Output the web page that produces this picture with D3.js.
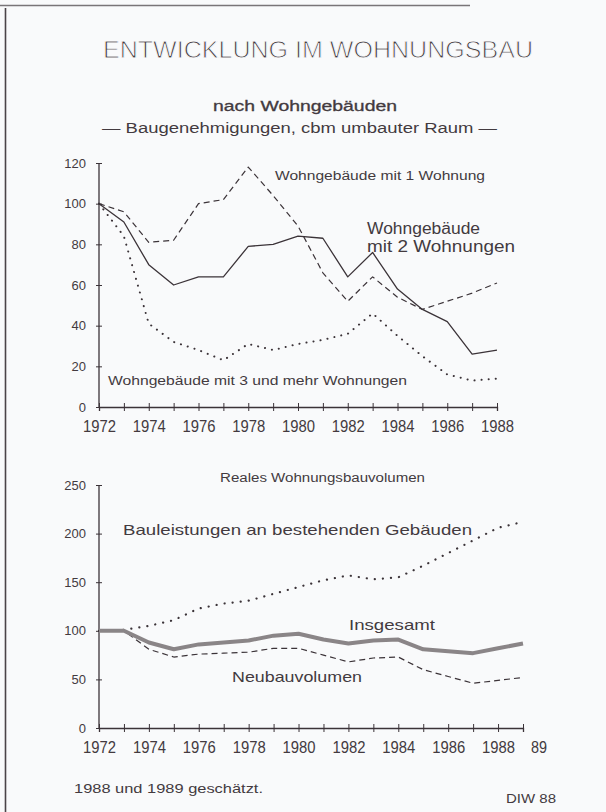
<!DOCTYPE html>
<html><head><meta charset="utf-8">
<script src="https://cdn.jsdelivr.net/npm/d3@7"></script>
<style>
html,body{margin:0;padding:0;background:#f9fafb;}
svg{display:block;}
text{fill:#433a3f;font-family:"Liberation Sans","DejaVu Sans",sans-serif;}
</style></head>
<body><svg id="c" width="606" height="812"></svg>
<script>
// ---- data: top chart (Baugenehmigungen, 1972 = 100) ----
const yearsTop = d3.range(1972, 1989);
const oneFamily   = [100, 96, 81, 82, 100, 102, 118, 104, 89, 66, 52, 64, 54, 48, 52, 56, 61];
const twoFamily   = [100, 91, 70, 60, 64, 64, 79, 80, 84, 83, 64, 76, 58, 48, 42, 26, 28];
const multiFamily = [100, 84, 41, 32, 28, 23, 31, 28, 31, 33, 36, 46, 35, 25, 16, 13, 14];
const yTicksTop = [0, 20, 40, 60, 80, 100, 120];
const xLabelsTop = [1972, 1974, 1976, 1978, 1980, 1982, 1984, 1986, 1988];

// ---- data: bottom chart (Reales Wohnungsbauvolumen, 1972 = 100) ----
const yearsBottom = d3.range(1972, 1990);
const bestand   = [100, 101, 105, 111, 123, 128, 131, 138, 145, 152, 157, 153, 155, 167, 180, 193, 206, 212];
const insgesamt = [100, 100, 88, 81, 86, 88, 90, 95, 97, 91, 87, 90, 91, 81, 79, 77, 82, 87];
const neubau    = [100, 100, 81, 73, 76, 77, 78, 82, 82, 75, 68, 72, 73, 60, 53, 46, 49, 52];
const yTicksBottom = [0, 50, 100, 150, 200, 250];
const xLabelsBottom = [1972, 1974, 1976, 1978, 1980, 1982, 1984, 1986, 1988];

const svg = d3.select("#c");
const ink = "#3b3338";
const bg = "#f9fafb";

// frame remnants of scanned page
svg.append("line").attr("x1",5.5).attr("x2",5.5).attr("y1",8).attr("y2",812).attr("stroke","#4a4448").attr("stroke-width",1.6);
svg.append("line").attr("x1",0).attr("x2",470).attr("y1",5.5).attr("y2",5.5).attr("stroke","#5a5458").attr("stroke-width",1.4).attr("opacity",0.8);

function txt(s, x, y, size, len, opts={}) {
  const t = svg.append("text").attr("x", x).attr("y", y).attr("font-size", size).text(s);
  if (len) t.attr("textLength", len).attr("lengthAdjust", "spacingAndGlyphs");
  if (opts.weight) t.attr("font-weight", opts.weight);
  if (opts.family) t.attr("font-family", opts.family);
  if (opts.stroke) t.attr("stroke", opts.strokeColor || "#433a3f").attr("stroke-width", opts.stroke);
  if (opts.opacity) t.attr("opacity", opts.opacity);
  return t;
}

// titles (background-coloured stroke thins the glyphs like the plotter font)
txt("ENTWICKLUNG IM WOHNUNGSBAU", 103, 58, 24, 430, {stroke:0.9, strokeColor:bg, opacity:0.99});
txt("nach Wohngebäuden", 213, 111, 14, 184, {stroke:0.3});
txt("— Baugenehmigungen, cbm umbauter Raum —", 102, 133, 14, 395);

function drawAxes(x, y, years, xLabels, yTicks, extraLabel) {
  const [x0, x1] = x.range();
  const y0 = y(0);
  // y axis
  svg.append("line").attr("x1", x0).attr("x2", x0).attr("y1", y0).attr("y2", y(yTicks[yTicks.length-1]))
    .attr("stroke", ink).attr("stroke-width", 1.3);
  const ya = svg.append("g").attr("transform", `translate(${x0},0)`)
    .call(d3.axisLeft(y).tickValues(yTicks).tickSize(3).tickPadding(10));
  ya.select(".domain").remove();
  ya.selectAll(".tick line").attr("x2", 3).attr("x1", -3).attr("stroke", ink);
  ya.selectAll(".tick text").attr("font-size", 13).attr("fill", ink)
    .attr("font-family", "'Liberation Sans', sans-serif");
  // x axis
  const xa = svg.append("g").attr("transform", `translate(0,${y0})`)
    .call(d3.axisBottom(x).tickValues(years).tickSize(4).tickPadding(10).tickFormat(d => xLabels.includes(d) ? d : ""));
  xa.select(".domain").attr("stroke", ink).attr("stroke-width", 1.3);
  xa.selectAll(".tick line").attr("y1", -4).attr("y2", 4).attr("stroke", ink);
  xa.selectAll(".tick text").attr("font-size", 16).attr("fill", ink)
    .attr("font-family", "'Liberation Sans', sans-serif")
    .attr("textLength", d => xLabels.includes(d) ? 33 : null)
    .attr("lengthAdjust", "spacingAndGlyphs");
  if (extraLabel) {
    xa.append("text").attr("x", x(extraLabel.year) + 16).attr("y", 25)
      .attr("text-anchor", "middle").attr("font-size", 16).attr("fill", ink)
      .attr("textLength", 16).attr("lengthAdjust", "spacingAndGlyphs").text(extraLabel.text);
  }
}

function drawLine(x, y, years, vals, style) {
  const line = d3.line().x((d, i) => x(years[i])).y(d => y(d));
  const p = svg.append("path").datum(vals).attr("d", line)
    .attr("fill", "none").attr("stroke", style.color || ink).attr("stroke-width", style.width || 1.2)
    .attr("stroke-linejoin", "round");
  if (style.dash) p.attr("stroke-dasharray", style.dash);
  if (style.cap) p.attr("stroke-linecap", style.cap);
}

// ---- top chart ----
const xT = d3.scaleLinear().domain([1972, 1988]).range([99, 497]);
const yT = d3.scaleLinear().domain([0, 120]).range([407, 163]);
drawAxes(xT, yT, yearsTop, xLabelsTop, yTicksTop, null);
drawLine(xT, yT, yearsTop, oneFamily, {dash: "6,4", width: 1.2});
drawLine(xT, yT, yearsTop, twoFamily, {width: 1.3});
drawLine(xT, yT, yearsTop, multiFamily, {dash: "0.1,7", width: 2, cap: "round"});

txt("Wohngebäude mit 1 Wohnung", 275, 180, 12, 210);
txt("Wohngebäude", 367, 234, 16, 113);
txt("mit 2 Wohnungen", 367, 252, 16, 148);
txt("Wohngebäude mit 3 und mehr Wohnungen", 108, 385, 13, 299);

// ---- bottom chart ----
const xB = d3.scaleLinear().domain([1972, 1989]).range([99, 523]);
const yB = d3.scaleLinear().domain([0, 250]).range([728, 485]);
drawAxes(xB, yB, yearsBottom, xLabelsBottom, yTicksBottom, {year: 1989, text: "89"});
drawLine(xB, yB, yearsBottom, bestand, {dash: "0.1,8", width: 2.2, cap: "round"});
drawLine(xB, yB, yearsBottom, neubau, {dash: "6,4", width: 1.2});
drawLine(xB, yB, yearsBottom, insgesamt, {color: "#8a8587", width: 4});

txt("Reales Wohnungsbauvolumen", 220, 482, 12, 205);
txt("Bauleistungen an bestehenden Gebäuden", 123, 535, 15, 349);
txt("Insgesamt", 349, 630, 15, 86);
txt("Neubauvolumen", 232, 682, 15, 130);

// footer
txt("1988 und 1989 geschätzt.", 74, 793, 13, 189);
txt("DIW 88", 506, 803, 13, 50);
</script></body></html>
